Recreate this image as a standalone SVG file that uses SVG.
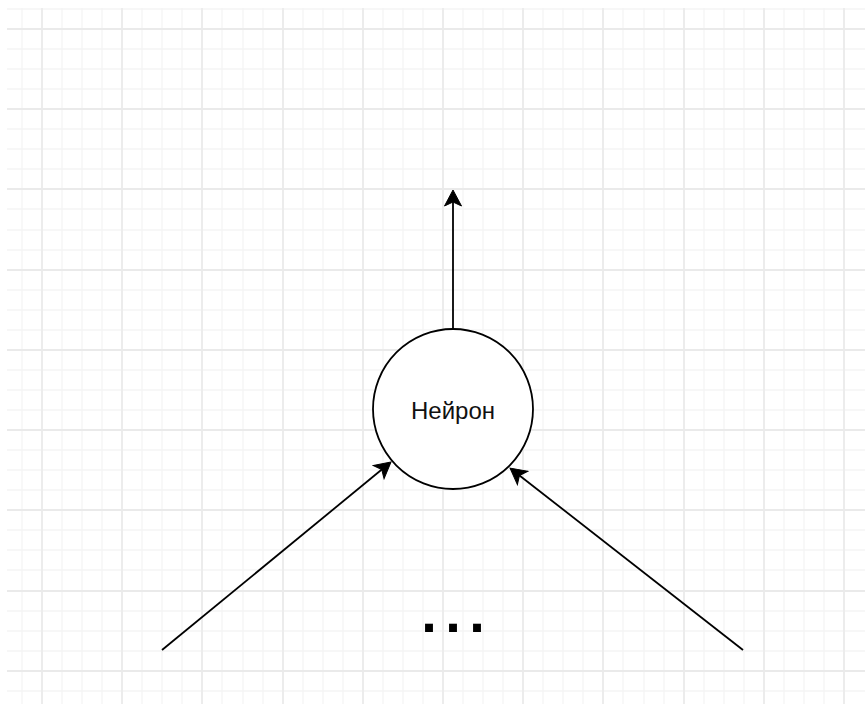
<svg xmlns="http://www.w3.org/2000/svg" width="865" height="704" viewBox="0 0 865 704">
  <style>
    .minor { stroke: #f5f5f5; stroke-width: 1.3; fill: none; }
    .major { stroke: #eaeaea; stroke-width: 1.8; fill: none; }
    .edge { stroke: #000; stroke-width: 1.8; fill: none; }
    .node { fill: #fff; stroke: #000; stroke-width: 1.8; }
    .label { font-family: "Liberation Sans", Arial, sans-serif; font-size: 24px; fill: #111; }
    .dots { font-family: "Liberation Sans", Arial, sans-serif; font-size: 56px; font-weight: bold; fill: #000; }
  </style>
  <defs>
    <marker id="arrow" viewBox="-7 -10 18 20" refX="0" refY="0" markerWidth="18" markerHeight="20" markerUnits="userSpaceOnUse" orient="auto">
      <path d="M10,0 L-6,-8.5 L-2,0 L-6,8.5 Z" fill="#000" stroke="#000" stroke-width="1" stroke-linejoin="miter"/>
    </marker>
  </defs>
  <rect width="865" height="704" fill="#fff"/>
  <g id="grid">
    <path class="minor" d="M22,8V704M62,8V704M82,8V704M102,8V704M142,8V704M162,8V704M182,8V704M222,8V704M243,8V704M263,8V704M303,8V704M323,8V704M343,8V704M383,8V704M403,8V704M423,8V704M463,8V704M483,8V704M503,8V704M543,8V704M563,8V704M583,8V704M623,8V704M644,8V704M664,8V704M704,8V704M724,8V704M744,8V704M784,8V704M804,8V704M824,8V704
      M7,9H865M7,49H865M7,69H865M7,89H865M7,129H865M7,149H865M7,169H865M7,209H865M7,230H865M7,250H865M7,290H865M7,310H865M7,330H865M7,370H865M7,390H865M7,410H865M7,450H865M7,470H865M7,490H865M7,530H865M7,550H865M7,570H865M7,611H865M7,631H865M7,651H865M7,691H865"/>
    <path class="major" d="M42,8V704M122,8V704M202,8V704M283,8V704M363,8V704M443,8V704M523,8V704M603,8V704M684,8V704M764,8V704M844,8V704
      M7,29H865M7,109H865M7,189H865M7,270H865M7,350H865M7,430H865M7,510H865M7,591H865M7,671H865"/>
  </g>
  <g id="connectors">
    <line class="edge" x1="453" y1="329" x2="453" y2="200" marker-end="url(#arrow)"/>
    <line class="edge" x1="162" y1="650" x2="383.3" y2="468.3" marker-end="url(#arrow)"/>
    <line class="edge" x1="743" y1="650" x2="517.9" y2="474.2" marker-end="url(#arrow)"/>
  </g>
  <g id="neuron">
    <circle class="node" cx="453" cy="409" r="80"/>
    <text class="label" x="453" y="419" text-anchor="middle">Нейрон</text>
  </g>
  <g id="ellipsis">
    <text class="dots" x="429 453 477" y="632" text-anchor="middle">...</text>
  </g>
</svg>
